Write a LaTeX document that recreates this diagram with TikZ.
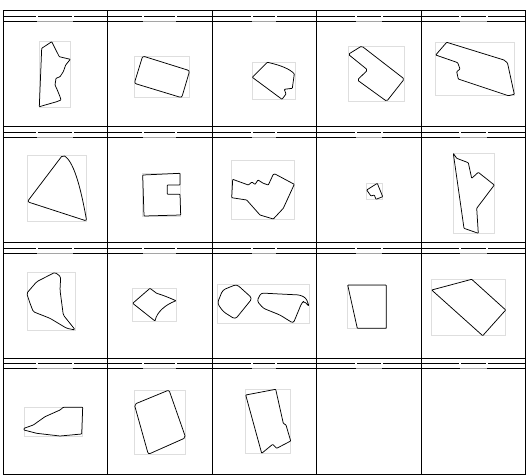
\documentclass[tikz,border=0pt]{standalone}
\usepackage{tikz}
\definecolor{boxgray}{RGB}{222,222,222}
\definecolor{labelgray}{RGB}{165,165,165}
\tikzset{
  gridline/.style={black, line width=0.9pt},
  bbox/.style={draw=boxgray, line width=0.6pt},
  outline/.style={draw=black, line width=0.75pt, rounded corners=0.6pt, line join=round},
}

\begin{document}
\begin{tikzpicture}[x=1pt, y=-1pt]
\useasboundingbox (0,0) rectangle (528,475);

% header strips and grid
\foreach \t in {10.7,126.7,242.5,358.3} {
  \draw[gridline] (3,\t) -- (525.5,\t);
  \draw[gridline] (3,\t+5.5) -- (525.5,\t+5.5);
  \draw[gridline] (3,\t+10.5) -- (525.5,\t+10.5);
  \foreach \c/\w in {55.25/18, 159.75/16.5, 264.25/12, 368.75/13, 473.25/13.5} {
    \fill[white] (\c-\w-1.2,\t+3.5) rectangle (\c-\w+1.2,\t+7.5);
    \fill[white] (\c+\w-1.2,\t+3.5) rectangle (\c+\w+1.2,\t+7.5);
    \draw[labelgray, line width=0.9pt] (\c-\w,\t+10.5) -- (\c+\w,\t+10.5);
  }
}
\draw[gridline] (3,474) -- (525.5,474);
\foreach \x in {3,107.5,212,316.5,421,525.5}
  \draw[gridline] (\x,10.7) -- (\x,475);

% row 1
\draw[bbox] (39.3,41.3) rectangle (70.3,107);
\draw[outline] (39.3,106.7) -- (41.7,48.3) -- (51.7,41.7) -- (59.3,56.7) -- (70.3,59.3)
  -- (65.7,65) -- (63.3,71.7) -- (60,76.7) -- (56,78.3) -- (55,85) -- (57.3,90)
  -- (60,96.7) -- (61,100) -- (56.7,101.7) -- cycle;

\draw[bbox] (134.3,56) rectangle (189.7,97.7);
\draw[outline, rounded corners=2pt] (142.7,56) -- (189.7,70.7) -- (181.7,97.7) -- (134.3,83.3) -- cycle;

\draw[bbox] (252.3,62.3) rectangle (295.7,99.3);
\draw[outline] (252.3,77.3) -- (267.3,62.3) .. controls (280,65) and (290,69) .. (294.3,74)
  -- (292.3,88.3) -- (284.3,89.3) -- (286,94) -- (282,99.3) -- cycle;

\draw[bbox] (348.3,46) rectangle (404.3,101.3);
\draw[outline, rounded corners=1.5pt] (348.3,54.3) -- (361.7,46) -- (404.3,79) -- (386.7,101.3)
  -- (357.3,80) -- (367.7,70) -- cycle;

\draw[bbox] (435.7,42.3) rectangle (514.3,95.7);
\draw[outline] (435.7,55) -- (446.7,42.3) -- (504,60) -- (507.5,63) -- (514.3,94.3)
  -- (508.3,95.7) -- (458.3,79) -- (456.7,71.7) -- (460,69) -- (457.7,62.7) -- (455,61.7) -- cycle;

% row 2
\draw[bbox] (27.3,155) rectangle (86.7,221.7);
\draw[outline, rounded corners=2pt] (27.3,201.7) -- (62.7,155) .. controls (75,162) and (82,195) .. (86.7,221)
  -- cycle;

\draw[bbox] (142.7,173.3) rectangle (180.7,216);
\draw[outline] (142.7,175) -- (180,173.3) -- (180,185) -- (167.3,185) -- (167.3,194.3)
  -- (180,194.3) -- (180.7,215) -- (144,216) -- cycle;

\draw[bbox] (231.7,160) rectangle (294.3,219.3);
\draw[outline] (232.7,179.3) -- (248.3,185) -- (252,182) -- (255,184.5) -- (258,180)
  -- (263.3,183.3) -- (268.3,185) -- (273.3,174.3) -- (275,174) -- (294.3,184.3)
  -- (283.3,208.3) -- (273.3,219) -- (260,215) -- (246.7,200) -- (231.7,197.7) -- cycle;

\draw[bbox] (366.7,183.3) rectangle (382.7,199.3);
\draw[outline] (366.7,190) -- (377.3,183.3) -- (382.7,196.7) -- (376,199.3) -- (374.3,195)
  -- (371,196) -- cycle;

\draw[bbox] (453.3,153.3) rectangle (494.3,233.3);
\draw[outline] (453.3,153.3) -- (456.7,158.3) -- (468.3,162.7) -- (471.7,178.3) -- (478.3,172.3)
  -- (494.3,185) -- (476.7,208.3) -- (478.3,233.3) -- (464,228.3) -- cycle;

% row 3
\draw[bbox] (27.3,272.3) rectangle (75.3,330);
\draw[outline, rounded corners=1.5pt] (26.7,293.3) -- (36.7,281.7) -- (55,272.3) -- (60.7,276.7)
  -- (60,290) -- (63.3,315) -- (75.3,330) -- (66.7,328.3) -- (50,318.3) -- (33.3,311.7)
  -- (30,303.3) -- cycle;

\draw[bbox] (132.7,288.3) rectangle (176,321);
\draw[outline] (132.7,303.3) -- (150,288.3) -- (156.7,293.3) .. controls (165,296) .. (176,300.7)
  .. controls (165,305) and (157,312) .. (155,321) -- cycle;

\draw[bbox] (217.3,284.3) rectangle (309.3,323.3);
\draw[outline, rounded corners=3pt] (217.3,303.3) -- (222.7,290) -- (236.7,284.3) -- (252.3,298.3)
  -- (235.3,319.3) -- (223.3,311.7) -- cycle;
\draw[outline, rounded corners=2.5pt] (257,301) -- (261,293) -- (280,294) -- (300,295)
  -- (306,298) -- (309.3,306.7) -- (304,301) -- (301.7,303) -- (293.3,323.3) -- (280,315)
  -- (263.3,308.3) -- cycle;

\draw[bbox] (347.7,285) rectangle (386.3,328.3);
\draw[outline] (347.7,285) -- (386.3,285) -- (386.3,328.3) -- (357.3,328.3) -- cycle;

\draw[bbox] (431.7,279.3) rectangle (505.7,335.7);
\draw[outline] (431.7,290) -- (471.7,279.3) -- (505.7,310) -- (482.7,335.7) -- cycle;

% row 4
\draw[bbox] (24,407.3) rectangle (82.7,436);
\draw[outline] (24,428.3) -- (33.3,425) -- (45,416.7) -- (60,410) -- (63.3,407.3) -- (82.7,407.3)
  -- (81.7,434) -- (60,436) -- (36.7,433.3) -- (24,430) -- cycle;

\draw[bbox] (134.3,390) rectangle (185.7,454.3);
\draw[outline, rounded corners=2pt] (134.3,404.3) -- (169,390) -- (185.7,437.7) -- (148.3,454.3) -- cycle;

\draw[bbox] (245.7,389.3) rectangle (290.7,453.3);
\draw[outline] (245.7,395) -- (275.7,389.3) -- (283.3,423.3) -- (286,425) -- (290.7,441)
  -- (276.7,448.3) -- (272.7,444.3) -- (261.7,453.3) -- cycle;
\end{tikzpicture}
\end{document}
